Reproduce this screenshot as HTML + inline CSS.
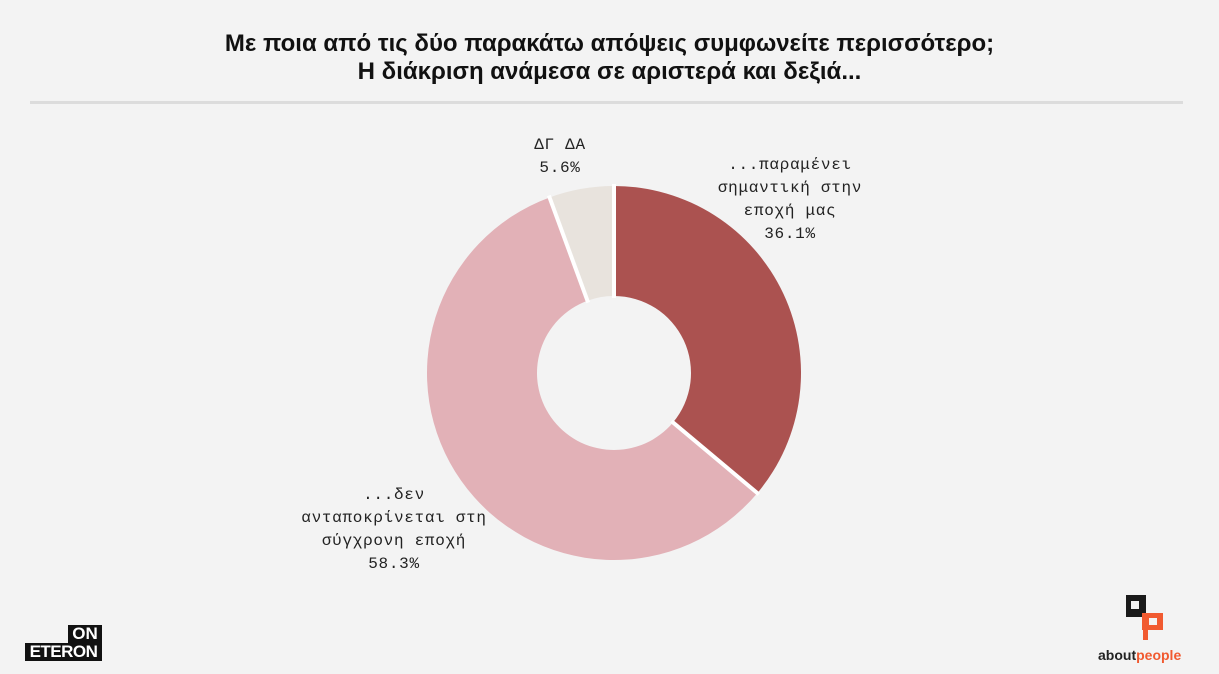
<!DOCTYPE html>
<html><head><meta charset="utf-8"><style>
body{margin:0;width:1219px;height:674px;background:#f3f3f3;overflow:hidden;position:relative;font-family:"Liberation Sans",sans-serif}
.t{position:absolute;left:0;width:1219px;text-align:center;font-size:24px;color:#111;font-weight:bold}
.lbl{position:absolute;font-family:"Liberation Mono",monospace;font-size:16px;letter-spacing:0.7px;color:#222;text-align:center;line-height:23px}
</style></head><body>
<div class="t" style="top:30px;line-height:28px">Με ποια από τις δύο παρακάτω απόψεις συμφωνείτε περισσότερο;<br>Η διάκριση ανάμεσα σε αριστερά και δεξιά...</div>
<div style="position:absolute;left:30px;top:101px;width:1153px;height:3px;background:#dcdcdc"></div>
<svg id="chart" width="1219" height="674" style="position:absolute;left:0;top:0"></svg>
<div class="lbl" style="left:510px;top:134px;width:100px">ΔΓ ΔΑ<br>5.6%</div>
<div class="lbl" style="left:690px;top:154px;width:200px">...παραμένει<br>σημαντική στην<br>εποχή μας<br>36.1%</div>
<div class="lbl" style="left:274px;top:484px;width:240px">...δεν<br>ανταποκρίνεται στη<br>σύγχρονη εποχή<br>58.3%</div>
<div style="position:absolute;left:25px;top:625px;width:77px;height:36px">
<div style="position:absolute;left:43px;top:0;width:34px;height:18px;background:#111;color:#fff;font:bold 17px 'Liberation Sans';line-height:18px;text-align:center">ON</div>
<div style="position:absolute;left:0;top:18px;width:77px;height:18px;background:#111;color:#fff;font:bold 17px 'Liberation Sans';line-height:18px;text-align:center;letter-spacing:-0.5px">ETERON</div></div>
<div style="position:absolute;left:1098px;top:595px;width:100px;height:70px">
<div style="position:absolute;left:28px;top:0;width:20px;height:22px;background:#1a1a1a"></div>
<div style="position:absolute;left:33px;top:6px;width:8px;height:8px;background:#f3f3f3"></div>
<div style="position:absolute;left:44px;top:18px;width:21px;height:17px;background:#f15a30"></div>
<div style="position:absolute;left:45px;top:33px;width:5px;height:12px;background:#f15a30"></div>
<div style="position:absolute;left:51px;top:23px;width:8px;height:7px;background:#f3f3f3"></div>
<div style="position:absolute;left:0;top:52px;font:bold 14px 'Liberation Sans';color:#222">about<span style="color:#f15a30">people</span></div></div>
<script>
const categories=["...παραμένει σημαντική στην εποχή μας","...δεν ανταποκρίνεται στη σύγχρονη εποχή","ΔΓ ΔΑ"];
const values=[36.1,58.3,5.6];
const colors=["#ab5250","#e2b1b7","#e8e3dd"];
const svg=document.getElementById('chart');
const NS='http://www.w3.org/2000/svg';
const cx=614,cy=373,R=187,r=77;
const total=values.reduce((a,b)=>a+b,0);
let a0=0;
function pt(rad,a){return [cx+rad*Math.sin(a),cy-rad*Math.cos(a)];}
const bounds=[];
values.forEach((v,i)=>{
 const a1=a0+v/total*2*Math.PI;
 const large=(a1-a0)>Math.PI?1:0;
 const [x1,y1]=pt(R,a0),[x2,y2]=pt(R,a1),[x3,y3]=pt(r,a1),[x4,y4]=pt(r,a0);
 const p=document.createElementNS(NS,'path');
 p.setAttribute('d',`M${x1},${y1}A${R},${R} 0 ${large} 1 ${x2},${y2}L${x3},${y3}A${r},${r} 0 ${large} 0 ${x4},${y4}Z`);
 p.setAttribute('fill',colors[i]);
 
 
 svg.appendChild(p);
 bounds.push(a0);
 a0=a1;
});
bounds.forEach(a=>{
 const [x1,y1]=pt(r-2,a),[x2,y2]=pt(R+2,a);
 const l=document.createElementNS(NS,'line');
 l.setAttribute('x1',x1);l.setAttribute('y1',y1);l.setAttribute('x2',x2);l.setAttribute('y2',y2);
 l.setAttribute('stroke','#ffffff');l.setAttribute('stroke-width','4');
 
 
 svg.appendChild(l);
});
</script>
</body></html>
